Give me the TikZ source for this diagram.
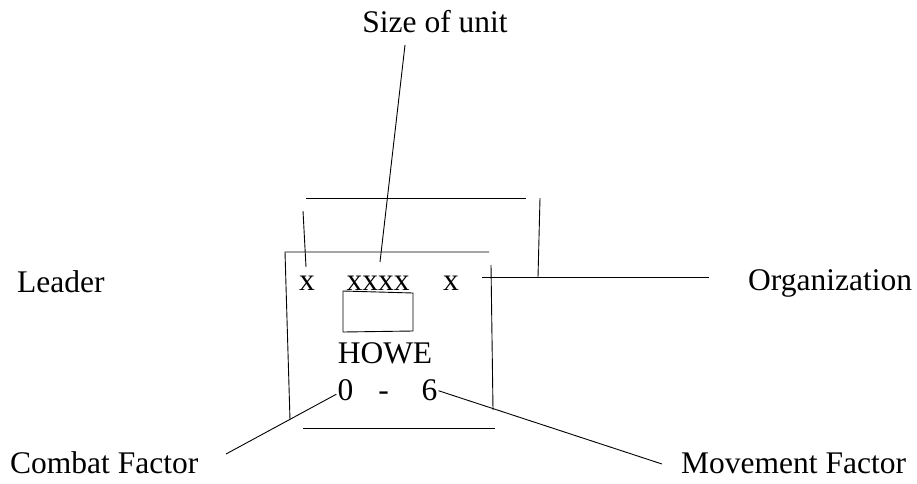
\documentclass[tikz,border=0pt]{standalone}
\usepackage{fontspec}
\setmainfont{Liberation Serif}
\begin{document}
\begin{tikzpicture}[x=1pt,y=-1pt,
  lbl/.style={inner sep=0pt, font=\fontsize{31.5}{36}\selectfont},
  ln/.style={line width=0.9pt, black}]
\useasboundingbox (0,0) rectangle (917,483);
% text labels
\node[lbl, anchor=base] (size) at (435,32) {Size of unit};
\node[lbl, anchor=base west] (leader) at (17,292) {Leader};
\node[lbl, anchor=base west] (org) at (748,290) {Organization};
\node[lbl, anchor=base west] (combat) at (10,473) {Combat Factor};
\node[lbl, anchor=base west] (movement) at (681,473) {Movement Factor};
\node[lbl, anchor=base] (xl) at (307,290) {x};
\node[lbl, anchor=base] (xxxx) at (378,290) {xxxx};
\node[lbl, anchor=base] (xr) at (451,290) {x};
\node[lbl, anchor=base] (howe) at (385,363) {HOWE};
\node[lbl, anchor=base] (zero) at (345.5,400) {0};
\node[lbl, anchor=base] (dash) at (383.5,400) {-};
\node[lbl, anchor=base] (six) at (429.5,400) {6};
% back card
\draw[ln] (306,198) -- (526,198);
\draw[ln] (303,211) -- (306,267);
\draw[ln] (540,198) -- (538,277);
% front card
\draw[ln] (489,252) -- (285,252) -- (290,420);
\draw[ln] (491,265) -- (493,410);
\draw[ln] (303,428) -- (495,428);
% small box
\draw[ln] (343,291) -- (413,293) -- (413,331) -- (343,332) -- cycle;
% connectors
\coordinate (sizeend) at (405,45);
\coordinate (xxxxend) at (380,262);
\draw[ln] (sizeend) -- (xxxxend);
\coordinate (orgend) at (709,277);
\coordinate (orgstart) at (482,277);
\draw[ln] (orgstart) -- (orgend);
\coordinate (cfend) at (226,454);
\draw[ln] ([yshift=-4.5pt]zero.west) ++(-1,0) -- (cfend);
\coordinate (mfend) at (662,464);
\draw[ln] ([yshift=-1pt]six.east) ++(1,0) -- (mfend);
\end{tikzpicture}
\end{document}
